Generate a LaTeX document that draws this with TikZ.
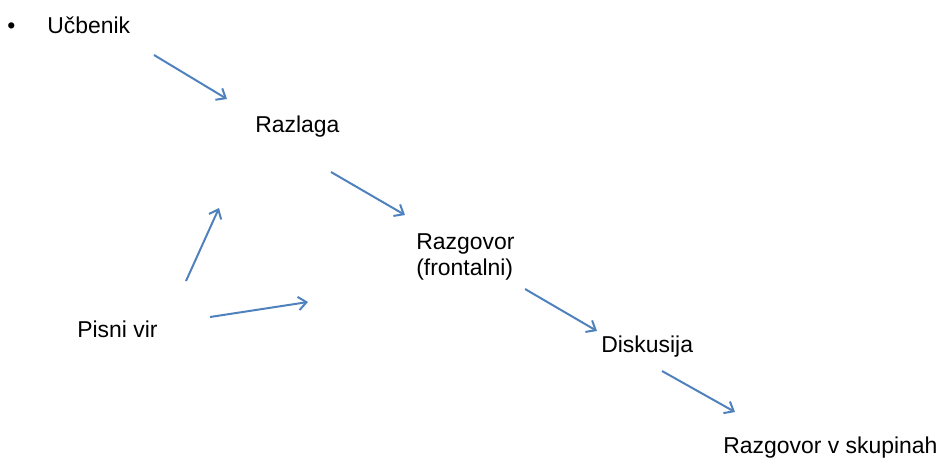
\documentclass[tikz,border=0pt]{standalone}
\usepackage{fontspec}
\setmainfont{Liberation Sans}
\usepackage{tikz}
\usetikzlibrary{arrows.meta}
\definecolor{arrowblue}{RGB}{79,129,189}

\begin{document}
\begin{tikzpicture}[
    x=0.75pt, y=-0.75pt,
    every node/.style={font=\fontsize{17.2}{19.5}\selectfont, inner sep=0pt, anchor=base west},
    label/.style={text=black, align=left},
    flow/.style={-{Straight Barb[length=6pt,width=10pt]}, line width=1.5pt, arrowblue}
]
\useasboundingbox (0,0) rectangle (944,464);

% Text labels
\node (bullet) at (7,33) {\textbullet};
\node[label] (ucbenik) at (47,33) {Učbenik};
\node[label] (razlaga) at (255,132) {Razlaga};
\node[label] (razgovor) at (416,275) {Razgovor\\(frontalni)};
\node[label] (pisni) at (77,337) {Pisni vir};
\node[label] (diskusija) at (601,352) {Diskusija};
\node[label] (skupine) at (723,453) {Razgovor v skupinah};

% Arrow end points
\coordinate (a1s) at (154,55);
\coordinate (a1e) at (227,99);
\coordinate (a2s) at (331,172);
\coordinate (a2e) at (405,215);
\coordinate (a3s) at (525,289);
\coordinate (a3e) at (597,331);
\coordinate (a4s) at (662,371);
\coordinate (a4e) at (735,412);
\coordinate (a5s) at (186,281);
\coordinate (a5e) at (219,208);
\coordinate (a6s) at (210,317);
\coordinate (a6e) at (308,302);

% Arrows
\draw[flow] (a1s) -- (a1e);
\draw[flow] (a2s) -- (a2e);
\draw[flow] (a3s) -- (a3e);
\draw[flow] (a4s) -- (a4e);
\draw[flow] (a5s) -- (a5e);
\draw[flow] (a6s) -- (a6e);

\end{tikzpicture}
\end{document}
